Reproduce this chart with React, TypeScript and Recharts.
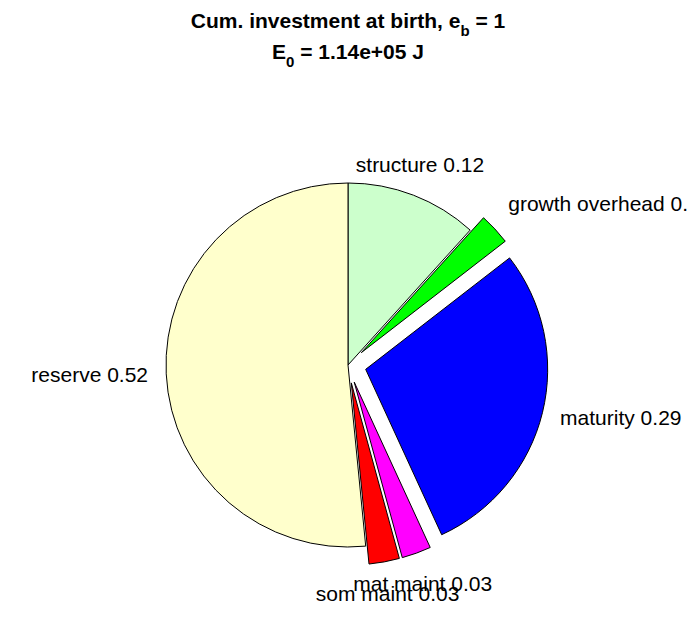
import { PieChart, Pie, Cell, Sector } from "recharts";

const names = ["structure", "growth overhead", "maturity", "mat maint", "som maint", "reserve"];
const fractions = [0.117, 0.028, 0.286, 0.026, 0.027, 0.515];
const exploded = [false, true, true, true, true, false];
const colors = ["#ccffcc", "#00ff00", "#0000ff", "#ff00ff", "#ff0000", "#ffffcc"];

const data = names.map((name, i) => ({ name, value: fractions[i], explode: exploded[i] }));

const RAD = Math.PI / 180;
const FONT = "'Liberation Sans', Arial, Helvetica, sans-serif";

function explodeOffset(props: any) {
  const isExploded = props.payload?.explode ?? props.explode;
  const e = isExploded ? props.outerRadius * 0.1 : 0;
  return {
    dx: e * Math.cos(-props.midAngle * RAD),
    dy: e * Math.sin(-props.midAngle * RAD),
    e,
  };
}

function SliceShape(props: any) {
  const { dx, dy } = explodeOffset(props);
  return (
    <Sector
      cx={props.cx + dx}
      cy={props.cy + dy}
      innerRadius={0}
      outerRadius={props.outerRadius}
      startAngle={props.startAngle}
      endAngle={props.endAngle}
      fill={props.fill}
      stroke="#000"
      strokeWidth={1}
    />
  );
}

function SliceLabel(props: any) {
  const { e } = explodeOffset(props);
  const r = props.outerRadius * 1.1 + e;
  const c = Math.cos(-props.midAngle * RAD);
  const s = Math.sin(-props.midAngle * RAD);
  const x = props.cx + r * c;
  const y = props.cy + r * s;
  const anchor = c > 0.5 ? "start" : c < -0.5 ? "end" : "middle";
  let baseline = "central";
  let yy = y;
  if (s < -0.5) {
    baseline = "auto";
    yy = y - 6;
  } else if (s > 0.5) {
    baseline = "hanging";
    yy = y + 6;
  }
  return (
    <text
      x={x}
      y={yy}
      textAnchor={anchor}
      dominantBaseline={baseline}
      fontFamily={FONT}
      fontSize={21}
      fill="#000"
    >
      {`${props.name} ${props.value.toFixed(2)}`}
    </text>
  );
}

export default function App() {
  return (
    <div style={{ margin: -8, width: 696, height: 618, background: "#fff" }}>
      <PieChart width={696} height={618} margin={{ top: 0, right: 0, bottom: 0, left: 0 }}>
        <text x={348} y={28} textAnchor="middle" fontFamily={FONT} fontWeight="bold" fontSize={21} fill="#000">
          Cum. investment at birth, e
          <tspan dy={8} fontSize={15}>b</tspan>
          <tspan dy={-8}> = 1</tspan>
        </text>
        <text x={348} y={59} textAnchor="middle" fontFamily={FONT} fontWeight="bold" fontSize={21} fill="#000">
          E
          <tspan dy={8} fontSize={15}>0</tspan>
          <tspan dy={-8}> = 1.14e+05 J</tspan>
        </text>
        <Pie
          data={data}
          dataKey="value"
          nameKey="name"
          cx={348}
          cy={365}
          outerRadius={182}
          startAngle={90}
          endAngle={-270}
          stroke="#000"
          strokeWidth={1}
          shape={SliceShape}
          label={SliceLabel}
          labelLine={false}
          isAnimationActive={false}
        >
          {data.map((d, i) => (
            <Cell key={d.name} fill={colors[i]} />
          ))}
        </Pie>
      </PieChart>
    </div>
  );
}
